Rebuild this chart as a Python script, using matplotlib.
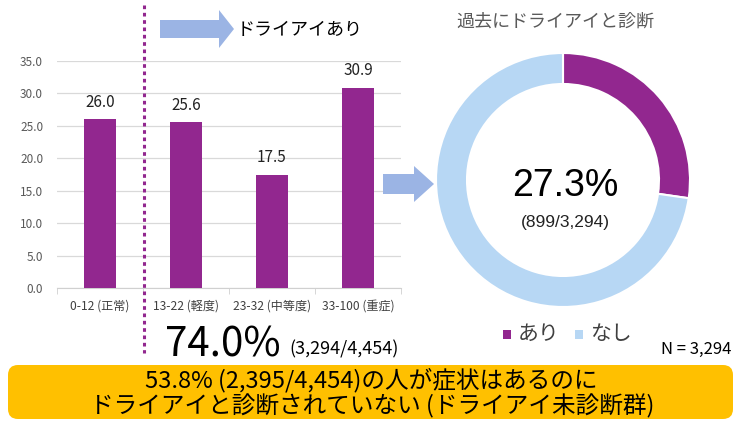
import matplotlib
matplotlib.use("Agg")
import matplotlib.pyplot as plt
from matplotlib.patches import FancyArrow, FancyBboxPatch
from matplotlib.lines import Line2D

plt.rcParams['font.family'] = ['Noto Sans CJK JP', 'DejaVu Sans']

# data
categories = ['0-12 (正常)', '13-22 (軽度)', '23-32 (中等度)', '33-100 (重症)']
bar_values = [26.0, 25.6, 17.5, 30.9]
yticks = [0, 5, 10, 15, 20, 25, 30, 35]
donut_labels = ['あり', 'なし']
donut_counts = [899, 3294 - 899]
n_total = 3294

PURPLE = '#92278F'
LIGHTBLUE = '#B7D7F4'
ARROW = '#9BB4E4'

W, H = 741, 426
fig = plt.figure(figsize=(W / 100, H / 100), dpi=100)

# bar chart
ax = fig.add_axes([57 / W, (H - 288) / H, 344 / W, 227 / H])
x = range(len(categories))
ax.bar(x, bar_values, width=0.37, color=PURPLE, zorder=3)
for i, v in enumerate(bar_values):
    ax.text(i, v + 1.3, f'{v:.1f}', ha='center', va='bottom', fontsize=11, color='#222222')
ax.set_xlim(-0.5, len(categories) - 0.5)
ax.set_ylim(0, 35)
ax.set_yticks(yticks)
ax.set_yticklabels([f'{t:.1f}' for t in yticks], fontsize=8.5, color='#595959')
ax.set_xticks(list(x))
ax.set_xticklabels(categories, fontsize=8.7, color='#404040')
ax.set_xticks([i + 0.5 for i in range(-1, len(categories))], minor=True)
ax.tick_params(axis='x', which='major', length=0, pad=8)
ax.tick_params(axis='x', which='minor', length=4, color='#D0D0D0')
ax.tick_params(axis='y', length=0, pad=10)
ax.grid(axis='y', color='#D9D9D9', linewidth=0.9, zorder=0)
for s in ['top', 'right', 'left']:
    ax.spines[s].set_visible(False)
ax.spines['bottom'].set_color('#D0D0D0')

# overlay axes in pixel coords
ov = fig.add_axes([0, 0, 1, 1], zorder=5)
ov.set_xlim(0, W)
ov.set_ylim(H, 0)
ov.axis('off')

# dotted separator
ov.add_line(Line2D([144, 144], [5, 353], color=PURPLE, linestyle=(0, (1.2, 1.2)), linewidth=2.2))

# arrows
ov.add_patch(FancyArrow(160, 29, 59, 0, width=18, head_width=38, head_length=15,
                        length_includes_head=False, color=ARROW, linewidth=0))
ov.text(237, 30, 'ドライアイあり', fontsize=13, va='center', ha='left', color='black')
ov.add_patch(FancyArrow(383, 184, 31, 0, width=20, head_width=36, head_length=20,
                        length_includes_head=False, color=ARROW, linewidth=0))

# donut
cx, cy, r = 563, 180, 127
ax2 = fig.add_axes([(cx - 130) / W, (H - cy - 130) / H, 260 / W, 260 / H])
ax2.pie(donut_counts, colors=[PURPLE, LIGHTBLUE], startangle=90, counterclock=False,
        radius=r / 130, wedgeprops=dict(width=31 / 130, edgecolor='white', linewidth=1.5))
ax2.set_xlim(-1, 1)
ax2.set_ylim(-1, 1)
ax2.set_aspect('equal')

pct = donut_counts[0] / n_total * 100
ov.text(555, 22, '過去にドライアイと診断', fontsize=13, ha='center', va='center', color='#595959')
ov.text(565, 186, f'{pct:.1f}%', fontsize=27, ha='center', va='center', color='black',
        family='Liberation Sans')
ov.text(565, 223, f'({donut_counts[0]:,}/{n_total:,})', fontsize=12.5, ha='center', va='center',
        color='#222222', family='Liberation Sans')

# legend
ov.add_patch(plt.Rectangle((503, 330), 8, 9, color=PURPLE, linewidth=0))
ov.text(518, 334, donut_labels[0], fontsize=15, ha='left', va='center', color='#404040')
ov.add_patch(plt.Rectangle((575, 330), 8, 9, color=LIGHTBLUE, linewidth=0))
ov.text(590, 334, donut_labels[1], fontsize=15, ha='left', va='center', color='#404040')
ov.text(696, 349, f'N = {n_total:,}', fontsize=12, ha='center', va='center', color='black')

# 74.0%
ov.text(281, 345, '74.0%', fontsize=29, ha='right', va='center', color='black')
ov.text(289, 349, '(3,294/4,454)', fontsize=13, ha='left', va='center', color='black')

# bottom box
ov.add_patch(FancyBboxPatch((8, 365), 725, 54, boxstyle='round,pad=0,rounding_size=10',
                            facecolor='#FFC000', edgecolor='none'))
ov.text(371, 380, '53.8% (2,395/4,454)の人が症状はあるのに', fontsize=17, ha='center', va='center', color='black')
ov.text(372, 406, 'ドライアイと診断されていない (ドライアイ未診断群)', fontsize=17, ha='center', va='center', color='black')

fig.savefig('out.png', dpi=100)
